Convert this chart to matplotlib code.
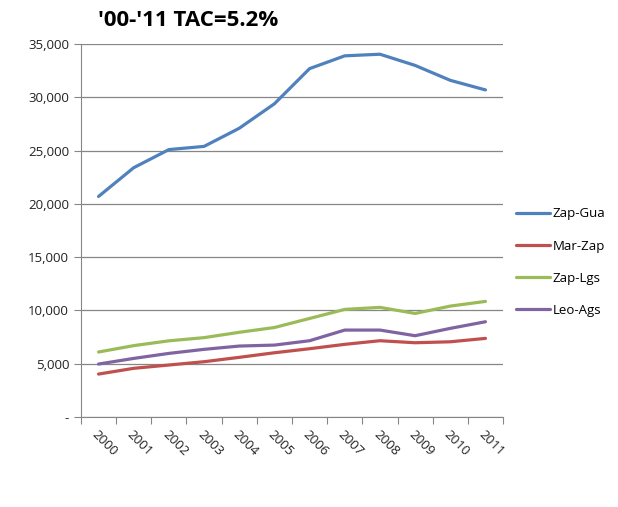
import matplotlib

matplotlib.use("Agg")
import matplotlib.pyplot as plt
from matplotlib.ticker import FuncFormatter, MultipleLocator

years = [str(y) for y in range(2000, 2012)]
zap_gua = [20700, 23400, 25100, 25400, 27100, 29400, 32700, 33900, 34050, 33000, 31600, 30700]
mar_zap = [4030, 4570, 4880, 5190, 5600, 6030, 6410, 6820, 7160, 6970, 7060, 7380]
zap_lgs = [6100, 6700, 7150, 7450, 7950, 8400, 9250, 10100, 10290, 9720, 10410, 10850]
leo_ags = [4970, 5500, 5970, 6350, 6660, 6750, 7160, 8160, 8160, 7630, 8320, 8940]

series = [
    ("Zap-Gua", zap_gua, "#4F81BD"),
    ("Mar-Zap", mar_zap, "#C0504D"),
    ("Zap-Lgs", zap_lgs, "#9BBB59"),
    ("Leo-Ags", leo_ags, "#8064A2"),
]

plt.rcParams["font.family"] = ["Open Sans", "DejaVu Sans"]

fig = plt.figure(figsize=(6.18, 5.07), dpi=100)
ax = fig.add_axes([0.131, 0.1775, 0.683, 0.7355])

x = list(range(len(years)))
for name, vals, color in series:
    ax.plot(x, vals, color=color, lw=2.3, label=name, solid_capstyle="round", solid_joinstyle="round")

ax.set_xlim(-0.5, len(years) - 0.5)
ax.set_ylim(0, 35000)
ax.yaxis.set_major_locator(MultipleLocator(5000))
ax.yaxis.set_major_formatter(FuncFormatter(lambda v, p: "-" if v == 0 else f"{int(v):,}"))
ax.grid(axis="y", color="#868686", lw=0.9)
ax.set_axisbelow(True)

# category boundaries carry the tick marks, labels sit at the centres
ax.set_xticks([i - 0.5 for i in range(len(years) + 1)])
ax.set_xticklabels([])
ax.set_xticks(x, minor=True)
ax.set_xticklabels(years, minor=True, rotation=-45, ha="left", va="top", rotation_mode="anchor")
ax.tick_params(axis="x", which="minor", length=0, pad=8, labelsize=9.5, colors="#222222")
ax.tick_params(axis="x", which="major", length=5, color="#868686")
ax.tick_params(axis="y", length=5, color="#868686", labelsize=9.5, labelcolor="#222222")

for side in ("top", "right"):
    ax.spines[side].set_visible(False)
for side in ("left", "bottom"):
    ax.spines[side].set_color("#868686")

fig.text(0.158, 0.96, "'00-'11 TAC=5.2%", fontsize=16, fontweight="bold", va="center", ha="left")

fig.legend(loc="center left", bbox_to_anchor=(0.815, 0.483), frameon=False, fontsize=9.5,
           handlelength=2.6, labelspacing=1.45, handletextpad=0.2)

fig.savefig("out.png", dpi=100)
